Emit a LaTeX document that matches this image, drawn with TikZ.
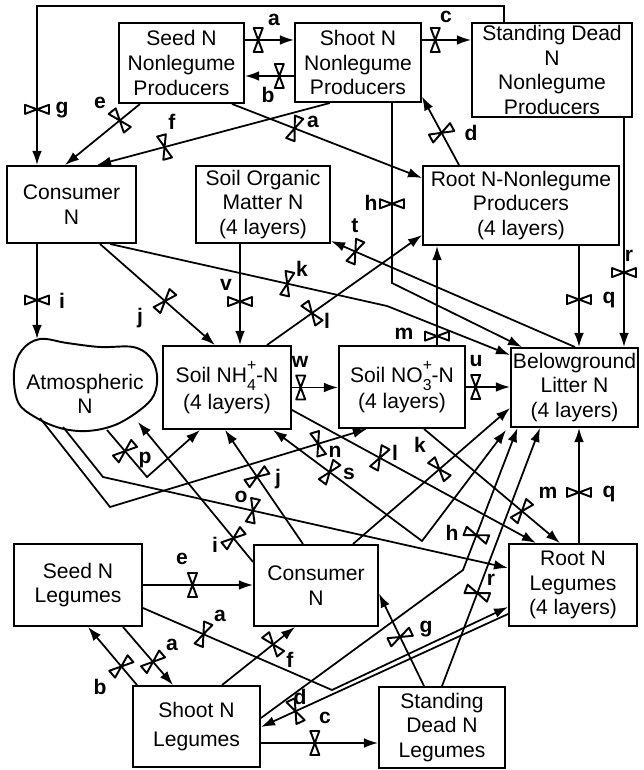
\documentclass[tikz,border=0pt]{standalone}
\usepackage{fontspec}
\setmainfont{Liberation Sans}
\usetikzlibrary{arrows.meta,calc}

\newcommand{\boxfont}{\fontsize{12}{14}\selectfont}
\newcommand{\ionsub}[2]{\rlap{\raisebox{1.1ex}{\fontsize{9}{9}\selectfont #2}}%
  \raisebox{-0.7ex}{\fontsize{9}{9}\selectfont #1}}

\tikzset{
  box/.style 2 args={draw, line width=1.1pt, minimum width=#1*0.02cm,
    minimum height=#2*0.02cm, inner sep=0pt, align=center, font=\boxfont},
  flow/.style={line width=1pt, -{Latex[length=8pt,width=5.5pt]}},
  lbl/.style={font=\boxfont\bfseries, inner sep=0pt},
  valve/.pic={
    \draw[-, line width=1.1pt, fill=white, line join=round]
      (0,0) -- (-4.5,12) -- (4.5,12) -- cycle
      (0,0) -- (-4.5,-12) -- (4.5,-12) -- cycle;
  }
}

\begin{document}
\begin{tikzpicture}[x=0.02cm, y=-0.02cm]
\useasboundingbox (0,0) rectangle (644,770);

% compartments
\node[box={125}{80}] (seedNL) at (181.5,63) {Seed N\\Nonlegume\\Producers};
\node[box={126}{79}] (shootNL) at (358,62.5) {Shoot N\\Nonlegume\\Producers};
\node[box={160}{94}] (deadNL) at (552,70) {Standing Dead\\N\\Nonlegume\\Producers};
\node[box={129}{77}] (consU) at (71.5,204.5) {Consumer\\N};
\node[box={134}{77}] (som) at (263,204.5) {Soil Organic\\Matter N\\(4 layers)};
\node[box={196}{79}] (rootNL) at (521,205.5) {Root N-Nonlegume\\Producers\\(4 layers)};
\node[box={128}{83}] (nh4) at (227,387.5) {Soil NH\ionsub{4}{+}-N\\[1pt](4 layers)};
\node[box={126}{82}] (no3) at (402,387) {Soil NO\ionsub{3}{+}-N\\[1pt](4 layers)};
\node[box={127}{79}] (litter) at (574.5,387.5) {Belowground\\Litter N\\(4 layers)};
\node[box={128}{82}] (seedL) at (78,585) {Seed N\\Legumes};
\node[box={124}{81}] (consL) at (316,585.5) {Consumer\\N};
\node[box={128}{82}] (rootL) at (573,585) {Root N\\Legumes\\(4 layers)};
\node[box={127}{81}] (shootL) at (196.5,726.5) {Shoot N\\[2pt]Legumes};
\node[box={126}{81}] (deadL) at (442,727.5) {Standing\\Dead N\\Legumes};

% atmosphere
\draw[line width=1.1pt] plot[smooth cycle, tension=0.6] coordinates {(14,372) (22,350)
  (40,339) (67,343) (100,347) (133,347) (150,357) (157,375) (154,395) (140,410)
  (115,425) (87,431) (60,428) (35,417) (18,402)};
\node[font=\boxfont, align=center] (atm) at (85,394) {Atmospheric\\N};
\coordinate (atmTop) at (37,339);
\coordinate (atmB1) at (107,430);
\coordinate (atmB2) at (40,418);
\coordinate (atmB3) at (63,427);
\coordinate (atmB4) at (138,422);

% bends
\coordinate (gR) at (504,6);
\coordinate (gL) at (37,6);
\coordinate (hBendU) at (392,283);
\coordinate (kBendU) at (387,306);
\coordinate (pBend) at (147,477);
\coordinate (nBend) at (110,507);
\coordinate (oBend) at (103,477);
\coordinate (sBend) at (422,541);
\coordinate (hBendL) at (463,570);
\coordinate (aBendL) at (332,690);

% nonlegume flows
\draw[flow] ($(seedNL.east)+(0,-23)$) -- pic[pos=0.27,sloped]{valve} ($(shootNL.west)+(0,-22.5)$);
\draw[flow] ($(shootNL.west)+(0,13.5)$) -- pic[pos=0.3,sloped]{valve} ($(seedNL.east)+(0,13)$);
\draw[flow] ($(shootNL.east)+(0,-22.5)$) -- pic[pos=0.27,sloped]{valve} ($(deadNL.west)+(0,-30)$);
\draw[flow] ($(deadNL.north)+(-48,0)$) -- (gR) -- (gL) -- pic[pos=0.65,sloped]{valve} ($(consU.north)+(-34.5,0)$);
\draw[flow] ($(seedNL.south)+(-41.5,0)$) -- pic[pos=0.27,sloped]{valve} ($(consU.north)+(-6.5,0)$);
\draw[flow] ($(shootNL.south)+(-28,0)$) -- pic[pos=0.71,sloped]{valve} ($(consU.north)+(25.5,0)$);
\draw[flow] ($(seedNL.south)+(50.5,0)$) -- pic[pos=0.33,sloped]{valve} ($(rootNL.west)+(0,-27.5)$);
\draw[flow] ($(rootNL.north)+(-62,0)$) -- pic[pos=0.47,sloped]{valve} ($(shootNL.east)+(0,34)$);
\draw[flow] ($(shootNL.south)+(34,0)$) -- pic[pos=0.56,sloped]{valve} (hBendU) -- ($(litter.north)+(-52.5,0)$);
\draw[flow] ($(consU.south)+(38.5,0)$) -- pic[pos=0.64,sloped]{valve} (kBendU) -- ($(litter.west)+(0,-32.5)$);
\draw[flow] ($(consU.south)+(28.5,0)$) -- pic[pos=0.565,sloped]{valve} ($(nh4.north)+(-12,0)$);
\draw[flow] ($(som.south)+(-23,0)$) -- pic[pos=0.57,sloped]{valve} ($(nh4.north)+(13,0)$);
\draw[flow] ($(consU.south)+(-34.5,0)$) -- pic[pos=0.59,sloped]{valve} (atmTop);
\draw[flow] ($(nh4.north)+(40,0)$) -- pic[pos=0.29,sloped]{valve} ($(rootNL.west)+(0,29.5)$);
\draw[flow] ($(litter.north)+(0.5,0)$) -- pic[pos=0.9,sloped]{valve} ($(som.east)+(0,36.5)$);
\draw[flow] ($(no3.north)+(35,0)$) -- pic[pos=0.09,sloped]{valve} ($(rootNL.south)+(-84,0)$);
\draw[flow] ($(rootNL.south)+(58,0)$) -- pic[pos=0.53,sloped]{valve} ($(litter.north)+(4.5,0)$);
\draw[flow] ($(deadNL.south)+(72,0)$) -- pic[pos=0.675,sloped]{valve} ($(litter.north)+(49.5,0)$);
\draw[flow] (nh4.east) -- pic[pos=0.19,sloped]{valve} (nh4.east -| no3.west);
\draw[flow] (no3.east) -- pic[pos=0.22,sloped]{valve} (no3.east -| litter.west);

% soil and atmosphere flows
\draw[flow] (atmB1) -- pic[pos=0.45,sloped]{valve} (pBend) -- ($(nh4.south)+(-27,0)$);
\draw[flow] (atmB2) -- (nBend) -- pic[pos=0.81,sloped]{valve} ($(no3.south)+(-35,0)$);
\draw[flow] (atmB3) -- (oBend) -- pic[pos=0.37,sloped]{valve} ($(rootL.west)+(0,-17)$);
\draw[flow] ($(consL.west)+(0,-23.5)$) -- pic[pos=0.17,sloped]{valve} (atmB4);
\draw[flow] ($(consL.north)+(-13,0)$) -- pic[pos=0.59,sloped]{valve} ($(nh4.south)+(-2,0)$);
\draw[flow, {Latex[length=8pt,width=5.5pt]}-{Latex[length=8pt,width=5.5pt]}]
  ($(litter.south west)+(-4,2)$) -- (sBend) -- pic[pos=0.62,sloped]{valve} ($(nh4.south)+(46,0)$);
\draw[flow] ($(nh4.east)+(0,22.5)$) -- pic[pos=0.36,sloped]{valve} ($(rootL.north)+(-37,0)$);
\draw[flow] ($(no3.south)+(22,0)$) -- pic[pos=0.72,sloped]{valve} ($(rootL.north)+(-13,0)$);
\draw[flow] ($(rootL.north)+(6,0)$) -- pic[pos=0.44,sloped]{valve} ($(litter.south)+(4.5,0)$);
\draw[flow] ($(consL.north)+(37,0)$) -- pic[pos=0.55,sloped]{valve} ($(litter.west)+(0,20.5)$);

% legume flows
\draw[flow] ($(shootL.east)+(0,-8.5)$) -- (hBendL) -- pic[pos=0.245,sloped]{valve} ($(litter.south)+(-57,0)$);
\draw[flow] (deadL.north) -- pic[pos=0.36,sloped]{valve} ($(litter.south)+(-34.5,0)$);
\draw[flow] ($(deadL.north)+(-18,0)$) -- pic[pos=0.53,sloped]{valve} ($(consL.east)+(0,8)$);
\draw[flow] ($(shootL.east)+(0,16.5)$) -- pic[pos=0.46,sloped]{valve} ($(deadL.west)+(0,15.5)$);
\draw[flow] ($(rootL.west)+(0,29)$) -- pic[pos=0.86,sloped]{valve} ($(shootL.east)+(0,0.5)$);
\draw[flow] ($(seedL.east)+(0,23)$) -- pic[pos=0.32,sloped]{valve} (aBendL) -- ($(rootL.west)+(0,22)$);
\draw[flow] (seedL.east) -- pic[pos=0.45,sloped]{valve} (seedL.east -| consL.west);
\draw[flow] ($(seedL.south)+(45,0)$) -- pic[pos=0.6,sloped]{valve} ($(shootL.north)+(-23.5,0)$);
\draw[flow] ($(shootL.north)+(-59.5,0)$) -- pic[pos=0.32,sloped]{valve} ($(seedL.south)+(10,0)$);
\draw[flow] ($(shootL.north)+(25.5,0)$) -- pic[pos=0.7,sloped]{valve} ($(consL.south)+(-21,0)$);

% flow letters
\node[lbl] (la1) at (274,20) {a};
\node[lbl] (lb1) at (268,95) {b};
\node[lbl] (lc1) at (446,17) {c};
\node[lbl] (lg1) at (62,110) {g};
\node[lbl] (le1) at (100,103) {e};
\node[lbl] (lf1) at (172,122) {f};
\node[lbl] (la2) at (313,122) {a};
\node[lbl] (ld1) at (471,133) {d};
\node[lbl] (lh1) at (371,203) {h};
\node[lbl] (lk1) at (302,269) {k};
\node[lbl] (lj1) at (140,318) {j};
\node[lbl] (lv1) at (226,285) {v};
\node[lbl] (li1) at (62,301) {i};
\node[lbl] (ll1) at (327,321) {l};
\node[lbl] (lt1) at (355,226) {t};
\node[lbl] (lm1) at (404,334) {m};
\node[lbl] (lq1) at (609,300) {q};
\node[lbl] (lr1) at (629,256) {r};
\node[lbl] (lw1) at (300,362) {w};
\node[lbl] (lu1) at (476,361) {u};
\node[lbl] (lp) at (145,460) {p};
\node[lbl] (ln) at (335,452) {n};
\node[lbl] (lo) at (241,497) {o};
\node[lbl] (li2) at (215,545) {i};
\node[lbl] (lj2) at (278,479) {j};
\node[lbl] (ls) at (349,474) {s};
\node[lbl] (ll2) at (395,453) {l};
\node[lbl] (lm2) at (548,493) {m};
\node[lbl] (lq2) at (609,494) {q};
\node[lbl] (lk2) at (420,445) {k};
\node[lbl] (lh2) at (452,533) {h};
\node[lbl] (lr2) at (491,580) {r};
\node[lbl] (lg2) at (426,629) {g};
\node[lbl] (lc2) at (325,718) {c};
\node[lbl] (ld2) at (300,697) {d};
\node[lbl] (la3) at (220,616) {a};
\node[lbl] (le2) at (182,559) {e};
\node[lbl] (la4) at (172,645) {a};
\node[lbl] (lb2) at (100,687) {b};
\node[lbl] (lf2) at (290,660) {f};
\end{tikzpicture}
\end{document}
